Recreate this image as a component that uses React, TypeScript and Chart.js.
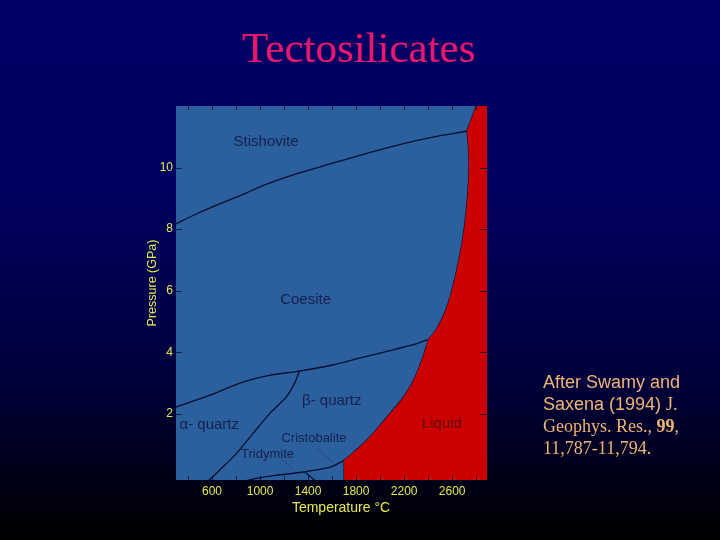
import React, { useEffect, useRef } from 'react';
import { Chart, registerables } from 'chart.js';
Chart.register(...registerables);

// ---- axis limits & ticks ----
const X_MIN = 300;
const X_MAX = 2890;
const Y_MIN = -0.15;
const Y_MAX = 12;
const xTickLabels = [600, 1000, 1400, 1800, 2200, 2600];
const xMinorTicks = [400, 600, 800, 1000, 1200, 1400, 1600, 1800, 2000, 2200, 2400, 2600, 2800];
const yTickLabels = [2, 4, 6, 8, 10];

// ---- phase boundaries (Temperature °C, Pressure GPa) ----
// melting curve (corners repeated so they stay sharp)
const meltT = [1700, 1700, 1700, 1750, 1889, 2056, 2194, 2278, 2347, 2403, 2403, 2472, 2556, 2625, 2680, 2715, 2735, 2740, 2733, 2722, 2722, 2762, 2800];
const meltP = [-0.15, 0.49, 0.49, 0.65, 1.14, 1.89, 2.54, 3.08, 3.73, 4.42, 4.42, 4.76, 5.47, 6.44, 7.5, 8.5, 9.5, 10.2, 10.8, 11.18, 11.18, 11.6, 12];
// stishovite / coesite
const stT = [300, 472, 694, 889, 1028, 1306, 1583, 1861, 2139, 2417, 2722];
const stP = [8.17, 8.5, 8.87, 9.18, 9.42, 9.8, 10.12, 10.43, 10.72, 10.97, 11.18];
// coesite / quartz
const cqT = [300, 578, 856, 1078, 1328, 1583, 1861, 2139, 2306, 2403];
const cqP = [2.22, 2.6, 3.03, 3.25, 3.39, 3.57, 3.84, 4.11, 4.28, 4.42];
// alpha / beta quartz
const abT = [1328, 1286, 1217, 1078, 939, 800, 661, 564];
const abP = [3.39, 2.98, 2.54, 2.0, 1.35, 0.7, 0.16, -0.2];
// beta quartz / tridymite / cristobalite
const trT = [856, 981, 1133, 1356, 1583, 1700];
const trP = [-0.2, -0.09, 0.0, 0.11, 0.27, 0.49];
// tridymite / cristobalite
const tcT = [1369, 1467];
const tcP = [0.13, -0.2];
// faint leader lines
const crLeadT = [1480, 1610];
const crLeadP = [0.87, 0.42];
const trLeadT = [1180, 1270];
const trLeadP = [0.55, 0.2];

// ---- region labels ----
const labelText = ['Stishovite', 'Coesite', 'β- quartz', 'α- quartz', 'Liquid', 'Cristobalite', 'Tridymite'];
const labelT = [1050, 1379, 1597, 577, 2514, 1449, 1062];
const labelP = [10.83, 5.71, 2.43, 1.65, 1.67, 1.21, 0.67];
const labelSize = [15, 15, 15, 15, 15, 13, 13];
const labelColor = ['#15204e', '#15204e', '#15204e', '#15204e', '#5e0c0c', '#15204e', '#15204e'];

const SANS = '"Liberation Sans", Arial, sans-serif';
const SERIF = '"Liberation Serif", "Times New Roman", serif';
const YELLOW = '#e8e84e';
const PLOT_BLUE = '#2b5f9e';
const LIQ_RED = '#cc0000';
const LINE = '#0a0f2e';

const pts = (xs: number[], ys: number[]) => xs.map((x, i) => ({ x, y: ys[i] }));

export default function App() {
  const ref = useRef<HTMLCanvasElement>(null);

  useEffect(() => {
    const canvas = ref.current!;
    const last = meltT.length - 1;
    const liquidPoly = [
      ...pts(meltT, meltP),
      { x: meltT[last], y: meltP[last] },
      { x: X_MAX, y: Y_MAX },
      { x: X_MAX, y: Y_MAX },
      { x: X_MAX, y: Y_MIN },
    ];

    const lineDs = (data: any[], color = LINE, width = 1.3) => ({
      data,
      borderColor: color,
      borderWidth: width,
      pointRadius: 0,
      fill: false,
      tension: 0.3,
    });

    const decor = {
      id: 'decor',
      beforeDatasetsDraw(chart: any) {
        const { ctx, chartArea: a } = chart;
        ctx.save();
        ctx.fillStyle = PLOT_BLUE;
        ctx.fillRect(a.left, a.top, a.right - a.left, a.bottom - a.top);
        ctx.restore();
      },
      afterDatasetsDraw(chart: any) {
        const { ctx, chartArea: a, scales } = chart;
        const xs = scales.x, ys = scales.y;
        ctx.save();
        // inner tick marks
        ctx.strokeStyle = 'rgba(5,5,40,0.75)';
        ctx.lineWidth = 1;
        ctx.beginPath();
        xMinorTicks.forEach((v) => {
          const px = Math.round(xs.getPixelForValue(v)) + 0.5;
          ctx.moveTo(px, a.bottom);
          ctx.lineTo(px, a.bottom - 4);
          ctx.moveTo(px, a.top);
          ctx.lineTo(px, a.top + 4);
        });
        yTickLabels.forEach((v) => {
          const py = Math.round(ys.getPixelForValue(v)) + 0.5;
          ctx.moveTo(a.left, py);
          ctx.lineTo(a.left + 6, py);
          ctx.moveTo(a.right, py);
          ctx.lineTo(a.right - 7, py);
        });
        ctx.stroke();
        // region labels
        ctx.textAlign = 'center';
        ctx.textBaseline = 'middle';
        labelText.forEach((t, i) => {
          ctx.font = `${labelSize[i]}px ${SANS}`;
          ctx.fillStyle = labelColor[i];
          ctx.fillText(t, xs.getPixelForValue(labelT[i]), ys.getPixelForValue(labelP[i]));
        });
        ctx.restore();
      },
      afterDraw(chart: any) {
        const { ctx, chartArea: a } = chart;
        ctx.save();
        ctx.fillStyle = YELLOW;
        ctx.textAlign = 'center';
        ctx.textBaseline = 'middle';
        ctx.font = `14px ${SANS}`;
        ctx.fillText('Temperature °C', a.left + 165, a.bottom + 28);
        ctx.translate(a.left - 23, a.top + 177);
        ctx.rotate(-Math.PI / 2);
        ctx.font = `12.5px ${SANS}`;
        ctx.fillText('Pressure (GPa)', 0, 0);
        ctx.restore();
      },
    };

    const chart = new Chart(canvas, {
      type: 'line',
      data: {
        datasets: [
          {
            data: liquidPoly,
            borderWidth: 0,
            borderColor: 'rgba(0,0,0,0)',
            backgroundColor: LIQ_RED,
            pointRadius: 0,
            fill: 'start',
            tension: 0.3,
            clip: 0,
          } as any,
          lineDs(pts(meltT, meltP)),
          lineDs(pts(stT, stP)),
          lineDs(pts(cqT, cqP)),
          lineDs(pts(abT, abP)),
          lineDs(pts(trT, trP)),
          lineDs(pts(tcT, tcP)),
          lineDs(pts(crLeadT, crLeadP), 'rgba(20,30,70,0.35)', 1),
          lineDs(pts(trLeadT, trLeadP), 'rgba(20,30,70,0.35)', 1),
        ],
      },
      options: {
        animation: false,
        responsive: false,
        devicePixelRatio: 1,
        layout: { padding: { left: 0, right: 233, top: 106, bottom: 0 } },
        plugins: { legend: { display: false }, tooltip: { enabled: false }, title: { display: false } },
        scales: {
          x: {
            type: 'linear',
            min: X_MIN,
            max: X_MAX,
            grid: { display: false, drawTicks: false },
            border: { display: false },
            afterBuildTicks: (s: any) => { s.ticks = xTickLabels.map((v) => ({ value: v })); },
            afterFit: (s: any) => { s.height = 60; },
            ticks: {
              color: YELLOW,
              font: { family: SANS, size: 12 },
              padding: 4,
              maxRotation: 0,
              autoSkip: false,
              callback: (v: any) => String(v),
            },
          },
          y: {
            type: 'linear',
            min: Y_MIN,
            max: Y_MAX,
            grid: { display: false, drawTicks: false },
            border: { display: false },
            afterBuildTicks: (s: any) => { s.ticks = yTickLabels.map((v) => ({ value: v })); },
            afterFit: (s: any) => { s.width = 176; },
            ticks: {
              color: YELLOW,
              font: { family: SANS, size: 12 },
              padding: 3,
              autoSkip: false,
              callback: (v: any) => String(v),
            },
          },
        },
      } as any,
      plugins: [decor],
    });
    return () => chart.destroy();
  }, []);

  return (
    <div
      style={{
        position: 'fixed',
        left: 0,
        top: 0,
        width: 720,
        height: 540,
        overflow: 'hidden',
        background: 'linear-gradient(to bottom, #000066 0%, #000060 35%, #00003c 70%, #000000 100%)',
      }}
    >
      <div
        style={{
          position: 'absolute',
          left: 0,
          top: 26,
          width: 717,
          textAlign: 'center',
          font: `43px ${SERIF}`,
          lineHeight: '43px',
          color: '#e8186e',
        }}
      >
        Tectosilicates
      </div>
      <canvas ref={ref} width={720} height={540} style={{ position: 'absolute', left: 0, top: 0, width: 720, height: 540 }} />
      <div style={{ position: 'absolute', left: 543, top: 371, color: '#f0b474', lineHeight: '22px', fontSize: 18 }}>
        <div style={{ fontFamily: SANS }}>After Swamy and</div>
        <div style={{ fontFamily: SANS }}>
          Saxena (1994) <span style={{ fontFamily: SERIF }}>J.</span>
        </div>
        <div style={{ fontFamily: SERIF }}>
          Geophys. Res., <b>99</b>,
        </div>
        <div style={{ fontFamily: SERIF }}>11,787-11,794.</div>
      </div>
    </div>
  );
}
